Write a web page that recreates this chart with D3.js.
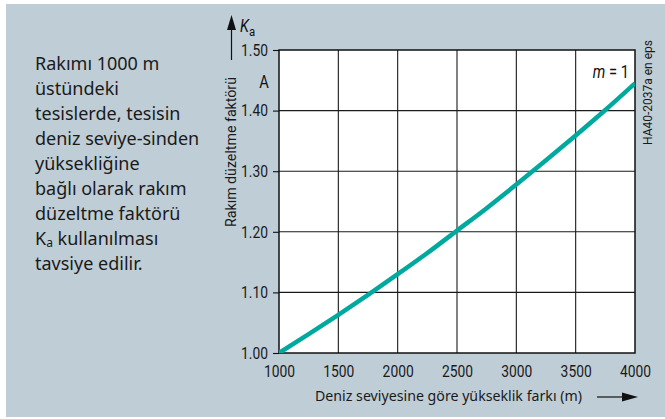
<!DOCTYPE html>
<html><head><meta charset="utf-8">
<script src="https://cdn.jsdelivr.net/npm/d3@7"></script>
<style>
html,body{margin:0;padding:0;background:#fff;}
svg{display:block;}
</style></head>
<body>
<svg id="chart" width="665" height="419"></svg>
<script>
// ---- data ----
const altitudes = [1000, 1250, 1500, 1750, 2000, 2250, 2500, 2750, 3000, 3250, 3500, 3750, 4000];
const kaValues  = [1.000, 1.031, 1.063, 1.096, 1.130, 1.165, 1.202, 1.239, 1.278, 1.318, 1.359, 1.401, 1.445];
const xTicks = [1000, 1500, 2000, 2500, 3000, 3500, 4000];
const yTicks = [1.00, 1.10, 1.20, 1.30, 1.40, 1.50];
const seriesLabel = "m = 1";
const xTitle = "Deniz seviyesine göre yükseklik farkı (m)";
const yTitle = "Rakım düzeltme faktörü";
const sideNote = ["Rakımı 1000 m", "üstündeki", "tesislerde, tesisin", "deniz seviye-sinden", "yüksekliğine", "bağlı olarak rakım", "düzeltme faktörü", "K|a| kullanılması", "tavsiye edilir."];
const codeLabel = "HA40-2037a en eps";

const svg = d3.select("#chart");
const cond = "Roboto,'DejaVu Sans',sans-serif";
const SX = 0.84;
const body = "'Noto Sans','Open Sans',sans-serif";

svg.append("rect").attr("x",6).attr("y",4).attr("width",659).attr("height",413).attr("fill","#bfcdd6");

const x = d3.scaleLinear().domain([1000,4000]).range([279,635]);
const y = d3.scaleLinear().domain([1.0,1.5]).range([353,50]);

// plot background
svg.append("rect").attr("x",x(1000)).attr("y",y(1.5)).attr("width",x(4000)-x(1000)).attr("height",y(1.0)-y(1.5)).attr("fill","#fff");

// grid
const g = svg.append("g");
g.selectAll("line.vx").data(xTicks.slice(1,-1)).join("line")
  .attr("x1",d=>x(d)).attr("x2",d=>x(d)).attr("y1",y(1.5)).attr("y2",y(1.0))
  .attr("stroke","#1a1a1a").attr("stroke-width",1.1);
g.selectAll("line.hy").data(yTicks.slice(1,-1)).join("line")
  .attr("y1",d=>y(d)).attr("y2",d=>y(d)).attr("x1",x(1000)).attr("x2",x(4000))
  .attr("stroke","#1a1a1a").attr("stroke-width",1.1);

// y axis
const yAxis = d3.axisLeft(y).tickValues(yTicks).tickFormat(d3.format(".2f")).tickSize(6).tickPadding(5);
const ya = svg.append("g").attr("transform",`translate(${x(1000)},0)`).call(yAxis);
ya.select(".domain").remove();
ya.selectAll("line").attr("stroke","#111").attr("stroke-width",1.1);
ya.selectAll("text").attr("font-family",cond).attr("font-size",16.5).attr("fill","#1a1a1a")
  .attr("x",-11/SX).attr("transform",`scale(${SX},1)`);

// x axis
const xAxis = d3.axisBottom(x).tickValues(xTicks).tickFormat(d3.format("d")).tickSize(0).tickPadding(12);
const xa = svg.append("g").attr("transform",`translate(0,${y(1.0)})`).call(xAxis);
xa.select(".domain").remove();
xa.selectAll("text").attr("font-family",cond).attr("font-size",16.5).attr("fill","#1a1a1a")
  .attr("transform",`scale(${SX},1)`);

// frame
svg.append("rect").attr("x",x(1000)).attr("y",y(1.5)).attr("width",x(4000)-x(1000)).attr("height",y(1.0)-y(1.5))
  .attr("fill","none").attr("stroke","#111").attr("stroke-width",1.5);

// curve
const line = d3.line().x((d,i)=>x(altitudes[i])).y(d=>y(d)).curve(d3.curveMonotoneX);
svg.append("clipPath").attr("id","pc").append("rect")
  .attr("x",x(1000)).attr("y",y(1.5)).attr("width",x(4000)-x(1000)).attr("height",y(1.0)-y(1.5));
svg.append("path").datum(kaValues).attr("d",line).attr("fill","none")
  .attr("stroke","#00a99d").attr("stroke-width",4.5).attr("clip-path","url(#pc)");

// m = 1 label
const ml = svg.append("text").attr("x",629/SX).attr("y",78).attr("text-anchor","end")
  .attr("transform",`scale(${SX},1)`)
  .attr("font-family",cond).attr("font-size",17.5).attr("fill","#111");
ml.append("tspan").attr("font-style","italic").text("m");
ml.append("tspan").text(" = 1");

// A label
svg.append("text").attr("x",264/SX).attr("y",88).attr("text-anchor","middle")
  .attr("transform",`scale(${SX},1)`)
  .attr("font-family",cond).attr("font-size",17.5).attr("fill","#111").text("A");

// Ka arrow
svg.append("line").attr("x1",231.5).attr("x2",231.5).attr("y1",26).attr("y2",60).attr("stroke","#111").attr("stroke-width",1.2);
svg.append("path").attr("d","M231.5,15 L227,30 L236,30 Z").attr("fill","#111");
const kt = svg.append("text").attr("x",240/SX).attr("y",32).attr("transform",`scale(${SX},1)`)
  .attr("font-family",cond).attr("font-size",17.5).attr("fill","#111");
kt.append("tspan").attr("font-style","italic").text("K");
kt.append("tspan").attr("font-size",13.5).attr("dy",4).text("a");

// y title
svg.append("text").attr("transform","translate(236,227) rotate(-90)").attr("text-anchor","start")
  .attr("font-family",cond).attr("font-size",14.5).attr("fill","#1a1a1a")
  .attr("textLength",150).attr("lengthAdjust","spacingAndGlyphs").text(yTitle);

// code label
svg.append("text").attr("transform","translate(652,145) rotate(-90)").attr("text-anchor","start")
  .attr("font-family",cond).attr("font-size",12.5).attr("fill","#1a1a1a")
  .attr("textLength",105).attr("lengthAdjust","spacingAndGlyphs").text(codeLabel);

// x title + arrow
svg.append("text").attr("x",315).attr("y",401).attr("font-family",body).attr("font-size",14)
  .attr("fill","#1a1a1a").attr("textLength",267).attr("lengthAdjust","spacingAndGlyphs").text(xTitle);
svg.append("line").attr("x1",597).attr("x2",625).attr("y1",397).attr("y2",397).attr("stroke","#111").attr("stroke-width",1.2);
svg.append("path").attr("d","M638,397 L622,392.5 L622,401.5 Z").attr("fill","#111");

// side note
const sn = svg.append("g").attr("font-family",body).attr("font-size",18).attr("fill","#1a1a1a");
sideNote.forEach((s,i)=>{
  const t = sn.append("text").attr("x",35).attr("y",70+25*i);
  const parts = s.split("|");
  if(parts.length===3){
    t.append("tspan").text(parts[0]);
    t.append("tspan").attr("font-size",12).attr("dy",2).text(parts[1]);
    t.append("tspan").attr("dy",-2).text(parts[2]);
  } else t.text(s);
});
</script>
</body></html>
